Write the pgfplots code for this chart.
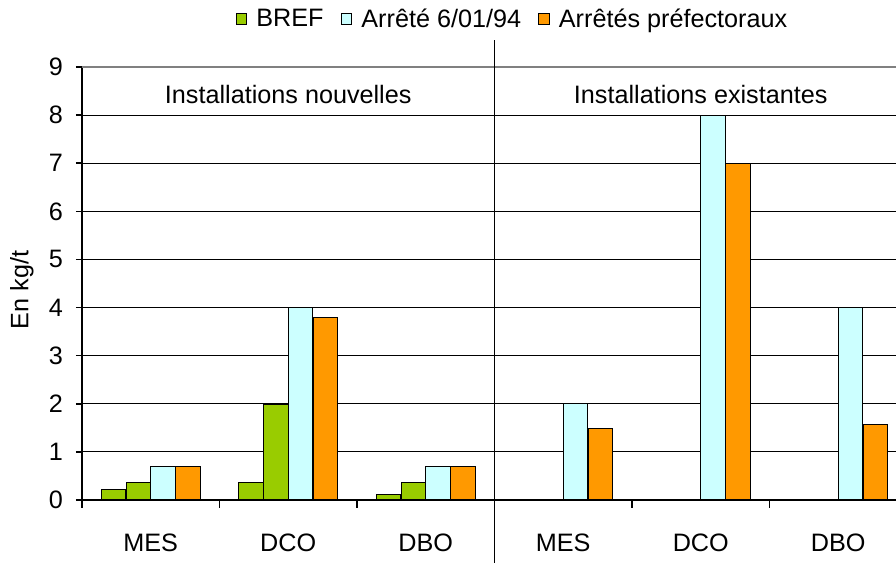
\documentclass[border=0pt]{standalone}
\usepackage{fontspec}
\setmainfont{Liberation Sans}
\usepackage{pgfplots}
\pgfplotsset{compat=1.18}
\definecolor{bref}{HTML}{99CC00}
\definecolor{arrete}{HTML}{CCFFFF}
\definecolor{prefect}{HTML}{FF9900}

\begin{document}
\begin{tikzpicture}
\begin{axis}[
  name=ax,
  width=407pt, height=216.5pt, scale only axis,
  font=\fontsize{12.6}{14}\selectfont,
  /pgf/number format/assume math mode=true,
  xmin=-0.5, xmax=5.42, ymin=0, ymax=9,
  ybar, bar width=0.178,
  clip=false,
  axis x line*=bottom, axis y line*=left,
  axis line style={black, line width=0.8pt},
  xtick={0,1,2,3,4,5},
  xticklabels={MES,DCO,DBO,MES,DCO,DBO},
  minor xtick={-0.5,0.5,1.5,2.5,3.5,4.5},
  major x tick style={draw=none},
  minor x tick style={black, line width=0.8pt},
  minor tick length=4pt,
  xticklabel style={yshift=-10.5pt},
  ytick={0,1,...,8},
  extra y ticks={9},
  extra y tick style={grid style={gray, line width=0.6pt}},
  ytick style={black, line width=0.8pt},
  major tick length=3pt,
  tick align=outside,
  yticklabel style={xshift=-3pt},
  ymajorgrids=true,
  grid style={black, line width=0.5pt},
  ylabel={En kg/t},
  every axis y label/.style={at={(axis description cs:-0.074,0.485)}, rotate=90, anchor=center},
  legend columns=3,
  legend style={draw=none, fill=none, at={(0.53,1.11)}, anchor=center,
    /tikz/every odd column/.append style={column sep=2.5pt},
    /tikz/every even column/.append style={column sep=6.5pt}},
  legend image code/.code={\draw[#1, draw=black, line width=0.5pt] (0pt,-2.7pt) rectangle (5.4pt,2.7pt);},
  every axis plot/.append style={draw=black, line width=0.6pt},
]
% BREF (valeurs basse et haute)
\addplot[fill=bref, bar shift=-0.27] coordinates {(0,0.21) (1,0.37) (2,0.11)};
\addlegendentry{BREF}
\addplot[fill=bref, bar shift=-0.09, forget plot] coordinates {(0,0.37) (1,1.98) (2,0.37)};
\addplot[fill=arrete, bar shift=0.09] coordinates {(0,0.7) (1,4) (2,0.7) (3,2) (4,8) (5,4)};
\addlegendentry{Arrêté 6/01/94}
\addplot[fill=prefect, bar shift=0.27] coordinates {(0,0.7) (1,3.8) (2,0.7) (3,1.48) (4,7) (5,1.57)};
\addlegendentry{Arrêtés préfectoraux}

\draw[black, line width=0.5pt] (axis cs:2.5,-1.31) -- (axis cs:2.5,9.56);
\node at (axis cs:1,8.42) {Installations nouvelles};
\node at (axis cs:4,8.42) {Installations existantes};
\end{axis}
\pgfresetboundingbox
\path[use as bounding box] ([shift={(-41pt,-31.5pt)}]ax.south west) rectangle ([shift={(0pt,33.5pt)}]ax.north east);
\end{tikzpicture}
\end{document}
